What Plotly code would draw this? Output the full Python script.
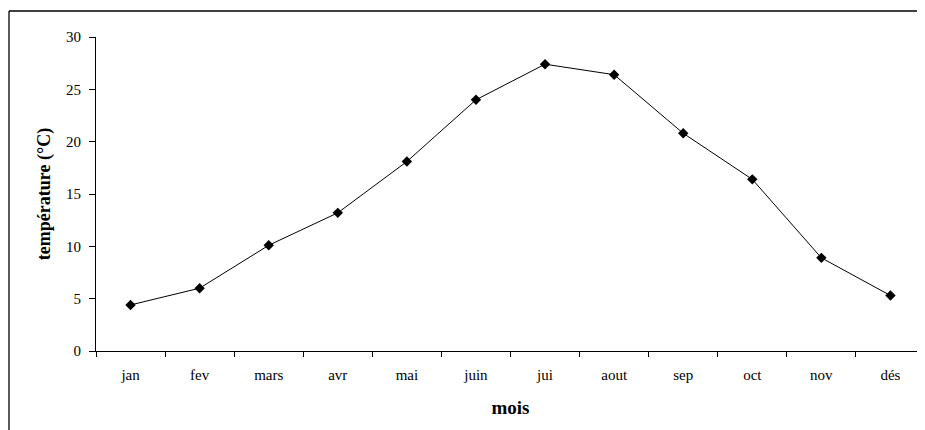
import plotly.graph_objects as go

months = ["jan", "fev", "mars", "avr", "mai", "juin", "jui", "aout", "sep", "oct", "nov", "dés"]
temperature = [4.4, 6.0, 10.1, 13.2, 18.1, 24.0, 27.4, 26.4, 20.8, 16.4, 8.9, 5.3]
y_ticks = [0, 5, 10, 15, 20, 25, 30]

font_family = "Liberation Serif, Times New Roman, serif"

fig = go.Figure()
fig.add_trace(go.Scatter(
    x=months, y=temperature, mode="lines+markers",
    line=dict(color="black", width=1),
    marker=dict(symbol="diamond", size=8, color="black"),
    showlegend=False,
))

bx0 = (9 - 96) / 829
by1 = (351.3 - 11) / 314.3

fig.update_layout(
    width=917, height=422,
    margin=dict(l=88, r=0, t=29, b=79),
    paper_bgcolor="white", plot_bgcolor="white",
    font=dict(family=font_family, color="black", size=15),
    xaxis=dict(
        type="category", range=[-0.5, 11.5],
        showline=True, linecolor="black", linewidth=1,
        ticks="outside", tickson="boundaries", ticklen=5, tickcolor="black",
        showgrid=False, zeroline=False,
        tickfont=dict(size=15, family=font_family),
        ticklabelstandoff=10,
        title=dict(text="<b>mois</b>", font=dict(size=19, family=font_family), standoff=18),
    ),
    yaxis=dict(
        range=[0, 30], tickvals=y_ticks,
        showline=True, linecolor="black", linewidth=1,
        ticks="outside", ticklen=6, tickcolor="black",
        showgrid=False, zeroline=False,
        tickfont=dict(size=15, family=font_family),
        ticklabelstandoff=5,
        title=dict(text="<b>température (°C)</b>", font=dict(size=18, family=font_family), standoff=10),
    ),
    shapes=[
        dict(type="line", xref="paper", yref="paper", x0=bx0, x1=bx0, y0=-0.4, y1=by1,
             line=dict(color="black", width=1.3), layer="below"),
        dict(type="line", xref="paper", yref="paper", x0=bx0, x1=1.0, y0=by1, y1=by1,
             line=dict(color="black", width=1.3), layer="below"),
    ],
)

fig.write_html("out.html")
